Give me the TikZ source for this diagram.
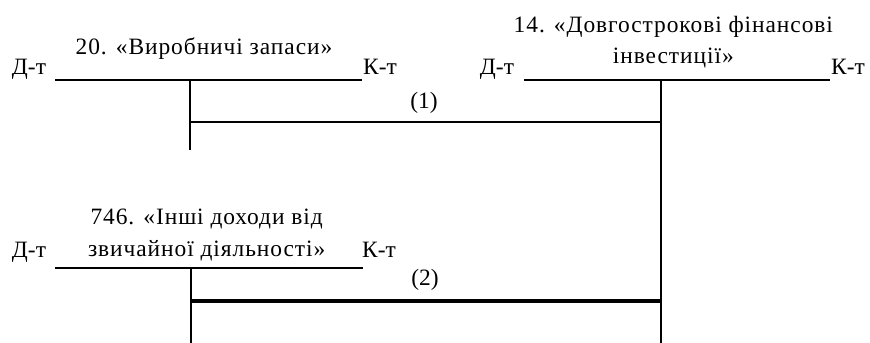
\documentclass[tikz,border=0pt]{standalone}
\usepackage{fontspec}
\setmainfont{Liberation Serif}
\newfontfamily\acfont{Liberation Serif}
\newfontfamily\acwide[LetterSpace=4]{Liberation Serif}
\usepackage{tikz}
\usetikzlibrary{positioning,calc}

\begin{document}
\begin{tikzpicture}[
  every node/.style={font=\acfont\fontsize{20}{27}\selectfont, inner sep=0pt},
  side/.style ={anchor=base},
  head/.style ={font=\acwide\fontsize{20}{27}\selectfont},
  title/.style={head, align=center},
  num/.style  ={},
  acc/.style  ={line width=1.6pt, black},
  post/.style ={line width=1.6pt, black},
  bold/.style ={line width=2.8pt, black}
]
\useasboundingbox (0,0) rectangle (26.1,10.29);

%% ---- Account 20 ---------------------------------------------------
\coordinate (A20l) at (1.65, 7.89);
\coordinate (A20r) at (10.86,7.89);
\coordinate (A20t) at (5.70, 7.89);
\coordinate (A20b) at (5.70, 5.79);
\node[side]  (A20d) at (0.87, 8.04) {Д-т};
\node[side]  (A20k) at (11.40,8.04) {К-т};
\node[side,head] (A20n) at (6.12, 8.64) {20. «Виробничі запаси»};
\draw[acc] (A20l) -- (A20r);
\draw[acc] (A20t) -- (A20b);

%% ---- Account 14 ---------------------------------------------------
\coordinate (A14l) at (15.72,7.89);
\coordinate (A14r) at (24.90,7.89);
\coordinate (A14t) at (19.83,7.89);
\coordinate (A14b) at (19.83,0);
\node[side]  (A14d) at (14.91,8.04) {Д-т};
\node[side]  (A14k) at (25.44,8.04) {К-т};
\node[title] (A14n) at (20.20,9.03) {14. «Довгострокові фінансові\\інвестиції»};
\draw[acc] (A14l) -- (A14r);
\draw[acc] (A14t) -- (A14b);

%% ---- Account 746 --------------------------------------------------
\coordinate (A746l) at (1.65, 2.25);
\coordinate (A746r) at (10.89,2.25);
\coordinate (A746t) at (5.73, 2.25);
\coordinate (A746b) at (5.73, 0);
\node[side]  (A746d) at (0.87, 2.55) {Д-т};
\node[side]  (A746k) at (11.37,2.55) {К-т};
\node[title] (A746n) at (6.20, 3.24) {746. «Інші доходи від\\звичайної діяльності»};
\draw[acc] (A746l) -- (A746r);
\draw[acc] (A746t) -- (A746b);

%% ---- Postings ------------------------------------------------------
\coordinate (P1a) at (A20t |- 0,6.63);
\coordinate (P1b) at (A14t |- 0,6.63);
\draw[post] (P1a) -- (P1b);
\node[num] (N1) at (12.72,7.20) {(1)};

\coordinate (P2a) at (A746t |- 0,1.26);
\coordinate (P2b) at (A14t |- 0,1.26);
\draw[bold] (P2a) -- (P2b);
\node[num] (N2) at (12.75,1.89) {(2)};

\end{tikzpicture}
\end{document}
